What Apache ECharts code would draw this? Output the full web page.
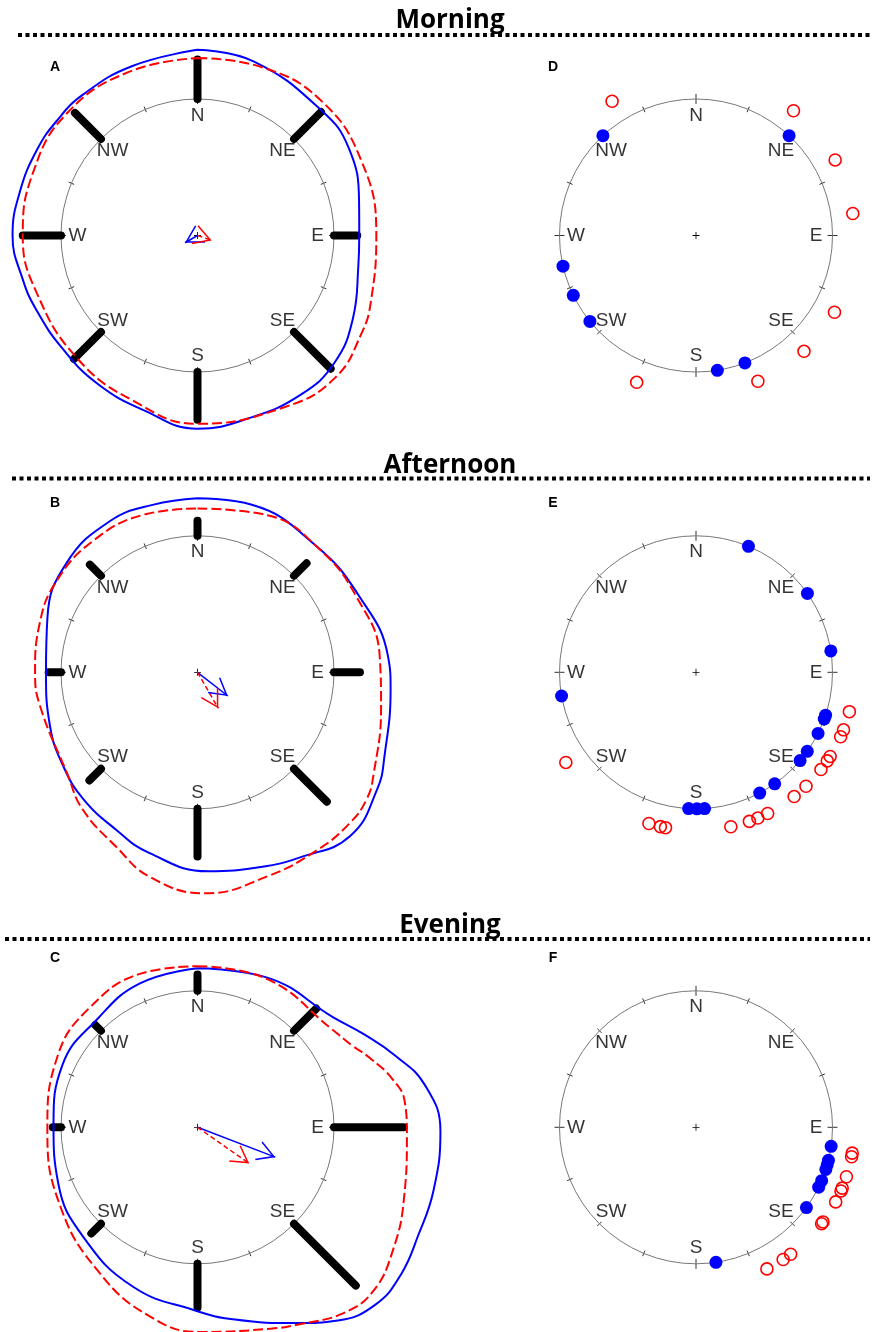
<!DOCTYPE html>
<html><head><meta charset="utf-8">
<script src="https://cdn.jsdelivr.net/npm/echarts@6/dist/echarts.min.js"></script>
<style>html,body{margin:0;padding:0;background:#fff}#c{width:872px;height:1332px}</style>
</head><body><div id="c"></div>
<script>
// ---------- data ----------
const DIRS = ['N','NE','E','SE','S','SW','W','NW'];
const DIR_ANGLES = [0,45,90,135,180,225,270,315];
const TITLES = ['Morning','Afternoon','Evening'];
const LETTERS = ['A','B','C','D','E','F'];

// bar lengths (circle = 1) for N, NE, E, SE, S, SW, W, NW
const barsA = [1.29, 1.28, 1.17, 1.38, 1.35, 1.28, 1.28, 1.27];
const barsB = [1.11, 1.13, 1.19, 1.34, 1.35, 1.12, 1.09, 1.115];
const barsC = [1.12, 1.23, 1.51, 1.64, 1.32, 1.10, 1.06, 1.06];

// closed curves: [angle (deg, clockwise from N), radius]
const blueA = [[0,1.36],[18,1.34],[45,1.29],[60,1.28],[78,1.21],[90,1.185],[101,1.20],[118,1.29],[133,1.37],[147,1.39],[164,1.39],[180,1.415],[197,1.34],[214,1.31],[230,1.29],[245,1.30],[256,1.32],[270,1.355],[284,1.34],[298,1.333],[309,1.33],[321,1.33],[339,1.33]];
const redA  = [[0,1.30],[21,1.32],[42,1.34],[65,1.32],[90,1.31],[111,1.36],[121,1.40],[136,1.45],[153,1.41],[180,1.38],[201,1.30],[224,1.26],[250,1.25],[270,1.28],[291,1.29],[313,1.31],[337,1.30]];
const blueB = [[0,1.275],[18,1.29],[43,1.27],[65,1.31],[85,1.40],[95,1.42],[114,1.50],[123,1.57],[137,1.64],[151,1.55],[162,1.50],[177,1.46],[195,1.37],[207,1.30],[222,1.25],[235,1.20],[250,1.15],[270,1.11],[290,1.17],[310,1.25],[330,1.28],[345,1.27]];
const redB  = [[0,1.20],[24,1.26],[45,1.27],[65,1.29],[85,1.34],[101,1.37],[120,1.49],[127,1.55],[135,1.57],[146,1.57],[161,1.58],[178,1.62],[193,1.54],[205,1.41],[220,1.31],[232,1.21],[258,1.18],[270,1.19],[287,1.21],[303,1.23],[322,1.23],[341,1.22]];
const blueC = [[0,1.165],[25,1.21],[51,1.28],[61,1.40],[70,1.54],[79.5,1.695],[91,1.78],[105,1.79],[116,1.80],[126,1.84],[135,1.84],[144,1.75],[153,1.61],[169,1.435],[181,1.34],[202,1.26],[226,1.16],[248,1.10],[271,1.055],[295,1.09],[317,1.08],[338,1.135]];
const redC  = [[0,1.18],[25,1.20],[54,1.22],[62,1.28],[68,1.36],[76,1.47],[83,1.53],[92,1.535],[109,1.60],[122,1.69],[133,1.76],[142,1.73],[152,1.63],[160,1.57],[179,1.50],[194,1.43],[214,1.285],[240,1.16],[269,1.10],[297,1.15],[318,1.18],[340,1.20]];

// mean vectors: [length, angle]
const arrowBlueA = [0.106, 240];
const arrowRedA  = [0.11, 109];
const arrowBlueB = [0.282, 128];
const arrowRedB  = [0.305, 150];
const arrowBlueC = [0.61, 111];
const arrowRedC  = [0.463, 125];

// individual directions (deg): filled = on circle, open = outside
const filledD = [317, 43, 257, 244, 231, 171, 159];
const openD   = [328, 38, 61.5, 82, 119, 137, 157, 202];
const filledE = [22.6, 54.7, 81, 260, 108.3, 110, 116.6, 125.4, 130.3, 144.8, 152.2, 176.4, 179.6, 183.1];
const openE   = [104.4, 111.3, 114, 122.1, 124, 127.9, 136, 141.7, 153.1, 157, 160.3, 167.3, 191.1, 193, 197.3, 235.3];
const filledF = [98, 104, 106, 108, 113, 116, 126, 171.6];
const openF   = [99.4, 100.7, 108.2, 112.6, 113.7, 118.1, 126.7, 127.5, 143.3, 146.6, 153.4];
const OPEN_R = 1.16;

// ---------- layout / style ----------
const R = 136.5;
const DATA_MAX = 2;
const COL_X = [197.5, 696];
const ROW_Y = [235.5, 672.3, 1127.3];
const TITLE_Y = [21, 466, 925.5];
const DOT_Y = [35, 478.5, 939];
const DOT_X0 = [18, 12, 5];
const BLUE = '#0000ff', RED = '#ff0000';
const HEAD = 'path://M0,0L10,17.32L8.7,18.07L0,3L-8.7,18.07L-10,17.32ZM0,-18.07L0.001,-18.07L0,-18.07Z';
const PLUS = 'path://M-0.12,-1L0.12,-1L0.12,-0.12L1,-0.12L1,0.12L0.12,0.12L0.12,1L-0.12,1L-0.12,0.12L-1,0.12L-1,-0.12L-0.12,-0.12Z';

const option = {animation:false, polar:[], angleAxis:[], radiusAxis:[], series:[], graphic:[]};

// two polars draw the circle with ticks crossing it; a third, larger one carries the data
function addPolar(cx, cy) {
  const base = option.polar.length;
  for (let k = 0; k < 3; k++) {
    const idx = base + k;
    const isData = k === 2;
    option.polar.push({center:[cx, cy], radius: isData ? R * DATA_MAX : R});
    option.angleAxis.push({
      polarIndex: idx, type:'value', min:0, max:360, interval:90, startAngle:90, clockwise:true,
      axisLine:{show:k===0, lineStyle:{color:'#777', width:1}},
      axisTick:{show:!isData, inside:k===1, length:5, lineStyle:{color:'#333', width:1}},
      minorTick:{show:!isData, splitNumber:4, length:3, lineStyle:{color:'#333', width:1}},
      axisLabel:{show:false}, splitLine:{show:false}, minorSplitLine:{show:false}, splitArea:{show:false}, silent:true
    });
    option.radiusAxis.push({
      polarIndex: idx, type:'value', min:0, max: isData ? DATA_MAX : 1,
      axisLine:{show:false}, axisTick:{show:false}, axisLabel:{show:false}, splitLine:{show:false}, splitArea:{show:false}, silent:true
    });
  }
  return base + 2;
}

function common(pi) {
  const s = option.series;
  s.push({type:'scatter', coordinateSystem:'polar', polarIndex:pi, silent:true, z:5,
    symbol:'circle', symbolSize:1, itemStyle:{color:'rgba(0,0,0,0)'},
    label:{show:true, position:'inside', formatter:'{b}', color:'#000', fontSize:19, fontFamily:'Liberation Sans'},
    data: DIRS.map((d,i)=>({name:d, value:[0.88, DIR_ANGLES[i]]}))});
  s.push({type:'scatter', coordinateSystem:'polar', polarIndex:pi, silent:true, z:6,
    symbol:PLUS, symbolSize:7, itemStyle:{color:'#000', opacity:1}, data:[[0,0]]});
}

function closeCurve(c) {
  const d = c.map(([a,r]) => [r, a]);
  d.push([c[0][1], c[0][0] + 360]);
  return d;
}

function arrow(pi, v, color, dashed) {
  option.series.push({type:'line', coordinateSystem:'polar', polarIndex:pi, silent:true, z:7, clip:false,
    lineStyle:{color, width:1.5, type: dashed ? [5,3] : 'solid'}, itemStyle:{color, opacity:1},
    data:[{value:[0, v[1]], symbol:'none'},
          {value:[v[0], v[1]], symbol:HEAD, symbolSize:[20, 36.14], symbolRotate:-v[1]}]});
}

const roses = [[barsA, blueA, redA, arrowBlueA, arrowRedA],
               [barsB, blueB, redB, arrowBlueB, arrowRedB],
               [barsC, blueC, redC, arrowBlueC, arrowRedC]];
const scatters = [[filledD, openD],[filledE, openE],[filledF, openF]];

for (let row = 0; row < 3; row++) {
  // left: rose with density curves
  const pl = addPolar(COL_X[0], ROW_Y[row]);
  const [bars, bc, rc, ab, ar] = roses[row];
  bars.forEach((len, i) => {
    option.series.push({type:'line', coordinateSystem:'polar', polarIndex:pl, silent:true, z:3, clip:false,
      symbol:'none', lineStyle:{color:'#000', width:8, cap:'round'},
      data:[[1, DIR_ANGLES[i]], [len, DIR_ANGLES[i]]]});
  });
  option.series.push({type:'line', coordinateSystem:'polar', polarIndex:pl, silent:true, z:4, clip:false,
    smooth:0.45, symbol:'none', lineStyle:{color:BLUE, width:2}, data:closeCurve(bc)});
  option.series.push({type:'line', coordinateSystem:'polar', polarIndex:pl, silent:true, z:4, clip:false,
    smooth:0.45, symbol:'none', lineStyle:{color:RED, width:2, type:[10,4]}, data:closeCurve(rc)});
  common(pl);
  arrow(pl, ab, BLUE, false);
  arrow(pl, ar, RED, true);

  // right: individual observations
  const pr = addPolar(COL_X[1], ROW_Y[row]);
  const [filled, open] = scatters[row];
  common(pr);
  option.series.push({type:'scatter', coordinateSystem:'polar', polarIndex:pr, silent:true, z:8, clip:false,
    symbol:'circle', symbolSize:13, itemStyle:{color:BLUE, opacity:1}, data: filled.map(a => [1, a])});
  option.series.push({type:'scatter', coordinateSystem:'polar', polarIndex:pr, silent:true, z:8, clip:false,
    symbol:'circle', symbolSize:12, itemStyle:{color:'rgba(0,0,0,0)', borderColor:RED, borderWidth:1.6, opacity:1},
    data: open.map(a => [OPEN_R, a])});

  // titles, separators, panel letters
  option.graphic.push({type:'text', x:450, y:TITLE_Y[row], z:100, silent:true,
    style:{text:TITLES[row], font:'bold 26px "Open Sans"', fill:'#000', align:'center', verticalAlign:'middle', textAlign:'center', textVerticalAlign:'middle'}});
  option.graphic.push({type:'line', z:100, silent:true,
    shape:{x1:DOT_X0[row], y1:DOT_Y[row], x2:870, y2:DOT_Y[row]},
    style:{stroke:'#000', lineWidth:4, lineDash:[4,3.5]}});
  [0,1].forEach(col => {
    option.graphic.push({type:'text', x:[55,553][col], y:[67,503,958][row], z:100, silent:true,
      style:{text:LETTERS[col*3+row], font:'bold 14px "Liberation Sans"', fill:'#000', align:'center', verticalAlign:'middle', textAlign:'center', textVerticalAlign:'middle'}});
  });
}

const chart = echarts.init(document.getElementById('c'), null, {renderer:'canvas'});
chart.setOption(option);
</script></body></html>
